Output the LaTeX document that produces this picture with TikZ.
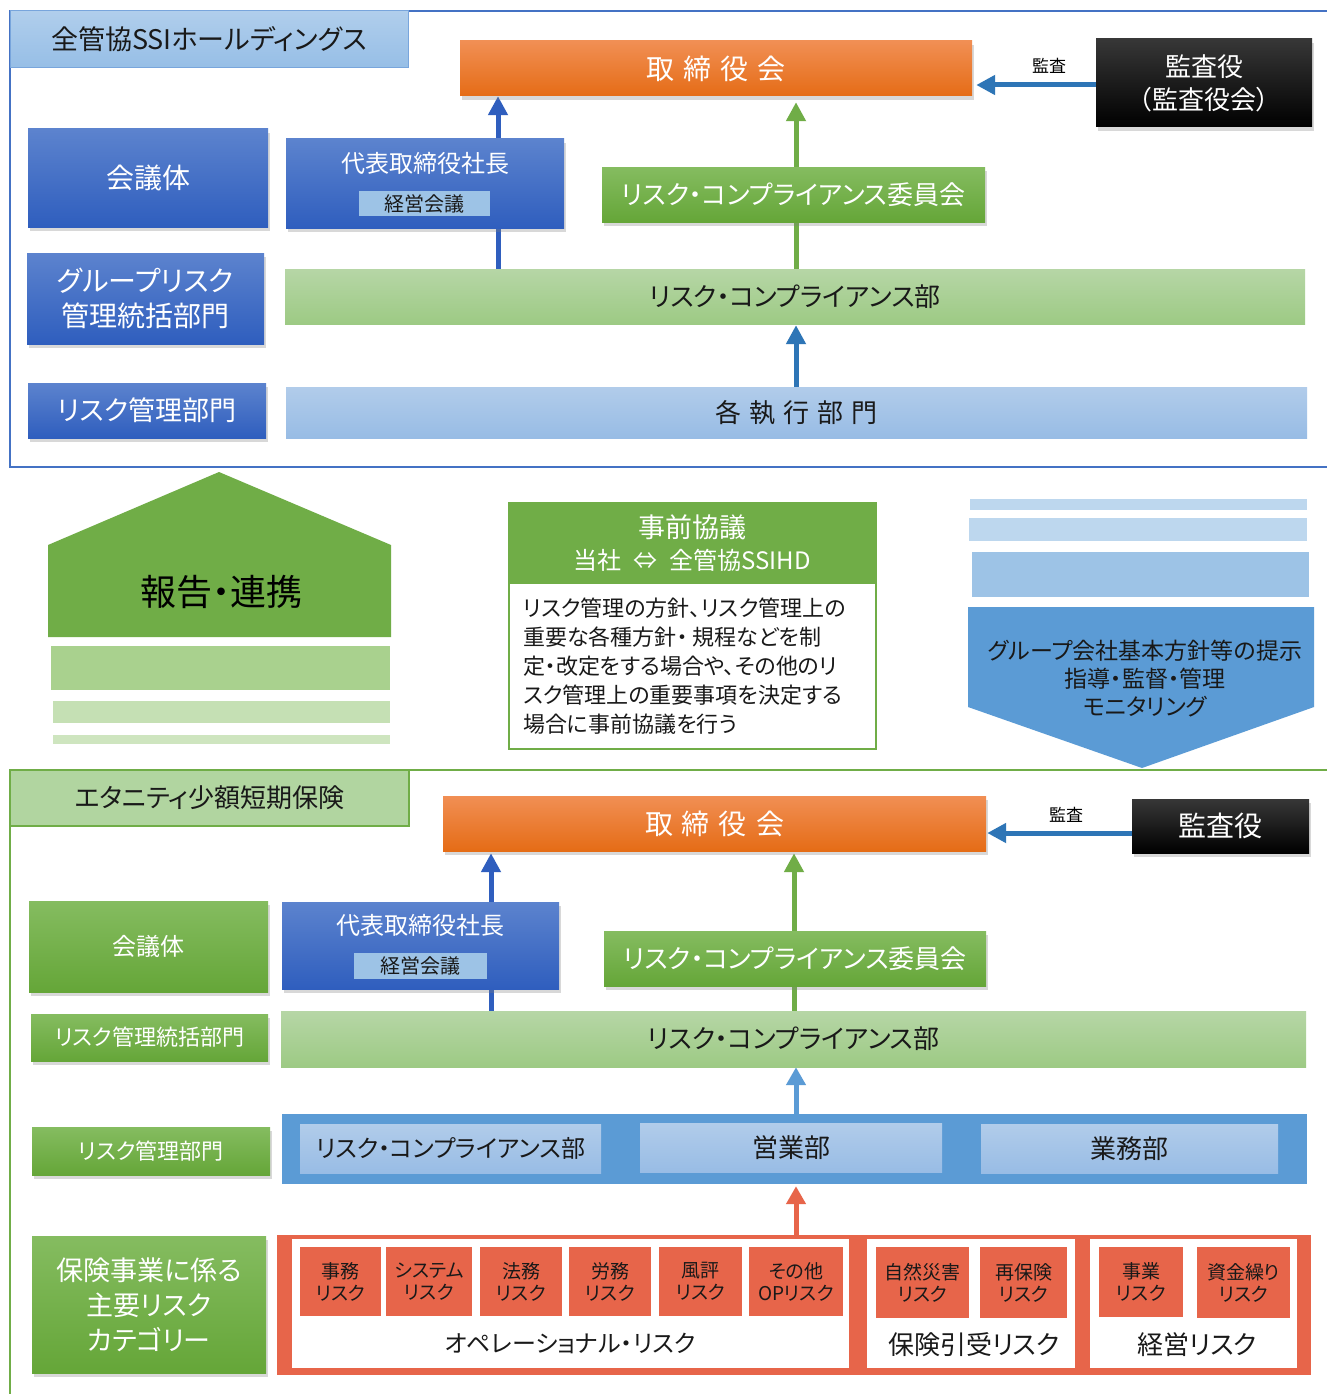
\documentclass[tikz,border=0pt]{standalone}
\usepackage{fontspec}
\setmainfont{Noto Sans CJK JP}[RawFeature=+palt]
\usetikzlibrary{arrows.meta,shadows}
\definecolor{blT}{RGB}{92,131,206}
\definecolor{blB}{RGB}{47,94,190}
\definecolor{grT}{RGB}{133,188,96}
\definecolor{grB}{RGB}{101,166,56}
\definecolor{orT}{RGB}{241,143,84}
\definecolor{orB}{RGB}{229,108,22}
\definecolor{bkT}{RGB}{55,55,55}
\definecolor{meet}{RGB}{157,195,230}
\definecolor{lgT}{RGB}{182,214,166}
\definecolor{lgB}{RGB}{157,202,132}
\definecolor{lbT}{RGB}{177,204,234}
\definecolor{lbB}{RGB}{152,188,229}
\definecolor{riskred}{RGB}{231,101,74}
\definecolor{txt}{RGB}{25,25,25}
\definecolor{arrblue}{RGB}{91,155,213}
\definecolor{midblue}{RGB}{46,117,182}
\definecolor{darkblue}{RGB}{47,94,190}
\definecolor{housegreen}{RGB}{112,173,71}
\definecolor{frameblue}{RGB}{68,114,196}
\definecolor{ttlT}{RGB}{176,206,236}
\definecolor{ttlB}{RGB}{150,190,230}
\definecolor{ttlD}{RGB}{120,165,220}
\definecolor{lgtitle}{RGB}{177,213,160}
\definecolor{lgone}{RGB}{169,209,142}
\definecolor{lgtwo}{RGB}{197,224,180}
\definecolor{lbone}{RGB}{157,195,230}
\definecolor{lbtwo}{RGB}{189,215,238}
\pgfdeclarelayer{bg}
\pgfsetlayers{bg,main}
\newcommand\fs[2]{\fontsize{#1}{#2}\selectfont}
\newcommand\boxat[7]{\node[inner sep=0pt,#2,minimum width={(#5)-(#3)},minimum height={(#6)-(#4)}] (#1) at ({((#3)+(#5))/2},{((#4)+(#6))/2}) {#7};}
\newcommand\gap[1]{\hspace{#1pt}}
\begin{document}
\begin{tikzpicture}[x=1pt,y=-1pt,
  shd/.style={drop shadow={shadow xshift=2pt,shadow yshift=-4pt,opacity=0.3}},
  bluebox/.style={top color=blT,bottom color=blB,draw=none,text=white,shd},
  greenbox/.style={top color=grT,bottom color=grB,draw=none,text=white,shd},
  orangebox/.style={top color=orT,bottom color=orB,draw=none,text=white,shd,font=\fs{28}{32}},
  blackbox/.style={top color=bkT,bottom color=black,draw=none,text=white,shd},
  meetbox/.style={fill=meet,draw=none,text=txt,font=\fs{20}{24}},
  lgbar/.style={top color=lgT,bottom color=lgB,draw=none,text=txt},
  lbbar/.style={top color=lbT,bottom color=lbB,draw=none,text=txt},
  riskbox/.style={fill=riskred,draw=none,text=txt,align=center,font=\fs{19}{22}},
  panel/.style={fill=white,draw=none},
  darr/.style={draw=darkblue,line width=5pt,-{Triangle[length=19pt,width=19pt]}},
  garr/.style={draw=housegreen,line width=5pt,-{Triangle[length=19pt,width=19pt]}},
  marr/.style={draw=midblue,line width=5pt,-{Triangle[length=19pt,width=19pt]}},
  larr/.style={draw=arrblue,line width=5pt,-{Triangle[length=18pt,width=19pt]}},
  rarr/.style={draw=riskred,line width=5pt,-{Triangle[length=18pt,width=19pt]}},
  lbl/.style={text=black,font=\fs{17}{20}}
]
\useasboundingbox (0,0) rectangle (1327,1394);
\begin{pgfonlayer}{bg}
\fill[white] (0,0) rectangle (1327,1394);
\end{pgfonlayer}

% ===== upper frame =====
\draw[line width=2pt,draw=frameblue] (1340,11) -- (10,11) -- (10,467) -- (1340,467);
\boxat{t1}{top color=ttlT,bottom color=ttlB,draw=ttlD,line width=1pt,text=txt,font=\fs{27}{30}}{10}{11}{408}{68}{全管協SSIホールディングス}

\boxat{board1}{orangebox}{460}{41}{972}{96}{取\gap{9}締\gap{9}役\gap{9}会}
\boxat{aud1}{blackbox,align=center,font=\fs{26}{33}}{1096}{39}{1312}{127}{監査役\\（監査役会）}
\node[lbl] (lbl1) at (1049,66) {監査};

\boxat{kaigi1}{bluebox,font=\fs{28}{32}}{28}{129}{268}{227}{会議体}
\boxat{pres1}{bluebox}{286}{139}{564}{228}{}
\node[text=white,font=\fs{24}{28}] (pres1t) at (425,163) {代表取締役社長};
\boxat{mt1}{meetbox}{359}{191}{490}{216}{経営会議}
\boxat{comm1}{greenbox,font=\fs{26}{30}}{602}{167}{985}{222}{リスク・コンプライアンス委員会}

\boxat{grp1}{bluebox,align=center,font=\fs{28}{35}}{27}{253}{264}{344}{グループリスク\\管理統括部門}
\boxat{rcd1}{lgbar,font=\fs{26}{30}}{285}{269}{1305}{324}{リスク・コンプライアンス部}

\boxat{rm1}{bluebox,font=\fs{27}{32}}{28}{383}{266}{438}{リスク管理部門}
\boxat{exec1}{lbbar,font=\fs{26}{30}}{286}{387}{1307}{438}{各\gap{8}執\gap{8}行\gap{8}部\gap{8}門}

\coordinate (xa) at (498,0);
\coordinate (xb) at (796,0);
\coordinate (ya) at (0,85);
\begin{pgfonlayer}{bg}
\draw[darr] (rcd1.north -| xa) -- (board1.south -| xa);
\draw[garr,shorten >=6pt] (rcd1.north -| xb) -- (board1.south -| xb);
\draw[marr,shorten >=1pt] (exec1.north -| xb) -- (rcd1.south -| xb);
\draw[marr,shorten >=4pt] (aud1.west |- ya) -- (board1.east |- ya);
\end{pgfonlayer}

% ===== middle =====
\fill[housegreen] (48,545) -- (219,472) -- (391,545) -- (391,637) -- (48,637) -- cycle;
\node[text=black,font=\fs{36}{40}] (rep) at (221,592) {報告・連携};
\fill[lgone] (51,646) rectangle (390,690);
\fill[lgtwo] (53,701) rectangle (390,723);
\fill[lgtwo!85!white] (53,735) rectangle (390,744);

\boxat{pre}{draw=housegreen,line width=2pt}{509}{503}{876}{749}{}
\fill[housegreen] (509,503) rectangle (876,584);
\node[text=white,font=\fs{27}{30}] (preh1) at (692,527) {事前協議};
\node[text=white,font=\fs{24}{28}] (preh2) at (692,560) {当社\gap{12}⇔\gap{12}全管協SSIHD};
\node[text=txt,font=\fs{22}{29},align=left,anchor=north west,inner sep=0pt] (preb) at (523,597.5) {リスク管理の方針、リスク管理上の\\重要な各種方針・ 規程などを制\\定・改定をする場合や、その他のリ\\スク管理上の重要事項を決定する\\場合に事前協議を行う};

\fill[lbtwo] (970,499) rectangle (1307,510);
\fill[lbtwo] (969,518) rectangle (1307,541);
\fill[lbone] (972,552) rectangle (1309,597);
\fill[arrblue] (968,607) -- (1314,607) -- (1314,707) -- (1142,768) -- (968,707) -- cycle;
\node[text=txt,font=\fs{23}{28},align=center] (guid) at (1145,679) {グループ会社基本方針等の提示\\指導・監督・管理\\モニタリング};

% ===== lower frame =====
\draw[line width=2pt,draw=housegreen] (1340,770) -- (10,770) -- (10,1400);
\boxat{t2}{fill=lgtitle,draw=housegreen,line width=1.5pt,text=txt,font=\fs{26}{30}}{10}{770}{409}{826}{エタニティ少額短期保険}

\boxat{board2}{orangebox}{443}{796}{986}{851}{取\gap{9}締\gap{9}役\gap{9}会}
\boxat{aud2}{blackbox,font=\fs{28}{32}}{1132}{799}{1309}{853}{監査役}
\node[lbl] (lbl2) at (1066,815) {監査};

\boxat{kaigi2}{greenbox,font=\fs{24}{28}}{29}{901}{268}{992}{会議体}
\boxat{pres2}{bluebox}{282}{902}{559}{989}{}
\node[text=white,font=\fs{24}{28}] (pres2t) at (420,925) {代表取締役社長};
\boxat{mt2}{meetbox}{354}{953}{487}{979}{経営会議}
\boxat{comm2}{greenbox,font=\fs{26}{30}}{604}{931}{986}{986}{リスク・コンプライアンス委員会}

\boxat{rmc2}{greenbox,font=\fs{22}{26}}{31}{1014}{268}{1061}{リスク管理統括部門}
\boxat{rcd2}{lgbar,font=\fs{26}{30}}{281}{1011}{1306}{1067}{リスク・コンプライアンス部}

\boxat{rm2}{greenbox,font=\fs{22}{26}}{32}{1127}{270}{1175}{リスク管理部門}
\boxat{cont}{fill=arrblue,draw=none}{282}{1114}{1307}{1184}{}
\boxat{d1}{lbbar,font=\fs{24}{28}}{300}{1124}{601}{1173}{リスク・コンプライアンス部}
\boxat{d2}{lbbar,font=\fs{26}{30}}{640}{1123}{942}{1172}{営業部}
\boxat{d3}{lbbar,font=\fs{26}{30}}{981}{1124}{1278}{1173}{業務部}

\boxat{cat}{greenbox,align=center,font=\fs{27}{35}}{32}{1236}{266}{1373}{保険事業に係る\\主要リスク\\カテゴリー}
\boxat{redc}{fill=riskred,draw=none}{277}{1235}{1311}{1375}{}
\boxat{p1}{panel}{292}{1239}{849}{1368}{}
\boxat{p2}{panel}{867}{1239}{1075}{1368}{}
\boxat{p3}{panel}{1090}{1239}{1297}{1368}{}

\boxat{r1}{riskbox}{300}{1247}{381}{1316}{事務\\リスク}
\boxat{r2}{riskbox}{386}{1247}{472}{1316}{システム\\リスク}
\boxat{r3}{riskbox}{480}{1247}{562}{1316}{法務\\リスク}
\boxat{r4}{riskbox}{569}{1247}{651}{1316}{労務\\リスク}
\boxat{r5}{riskbox}{659}{1247}{742}{1316}{風評\\リスク}
\boxat{r6}{riskbox}{749}{1247}{843}{1316}{その他\\OPリスク}
\boxat{r7}{riskbox}{876}{1247}{969}{1318}{自然災害\\リスク}
\boxat{r8}{riskbox}{980}{1247}{1067}{1318}{再保険\\リスク}
\boxat{r9}{riskbox}{1099}{1247}{1183}{1317}{事業\\リスク}
\boxat{r10}{riskbox}{1197}{1247}{1290}{1318}{資金繰り\\リスク}

\node[text=txt,font=\fs{24}{28}] (op) at (570,1343) {オペレーショナル・リスク};
\node[text=txt,font=\fs{26}{30}] (uw) at (974,1345) {保険引受リスク};
\node[text=txt,font=\fs{26}{30}] (mg) at (1197,1345) {経営リスク};

\coordinate (xc) at (491,0);
\coordinate (xd) at (794,0);
\coordinate (xe) at (796,0);
\coordinate (yb) at (0,833);
\begin{pgfonlayer}{bg}
\draw[darr,shorten >=2pt] (rcd2.north -| xc) -- (board2.south -| xc);
\draw[garr,shorten >=2pt] (rcd2.north -| xd) -- (board2.south -| xd);
\draw[larr] (cont.north -| xe) -- (rcd2.south -| xe);
\draw[rarr,shorten >=2pt] (redc.north -| xe) -- (cont.south -| xe);
\draw[marr,shorten >=1pt] (aud2.west |- yb) -- (board2.east |- yb);
\end{pgfonlayer}
\end{tikzpicture}
\end{document}
